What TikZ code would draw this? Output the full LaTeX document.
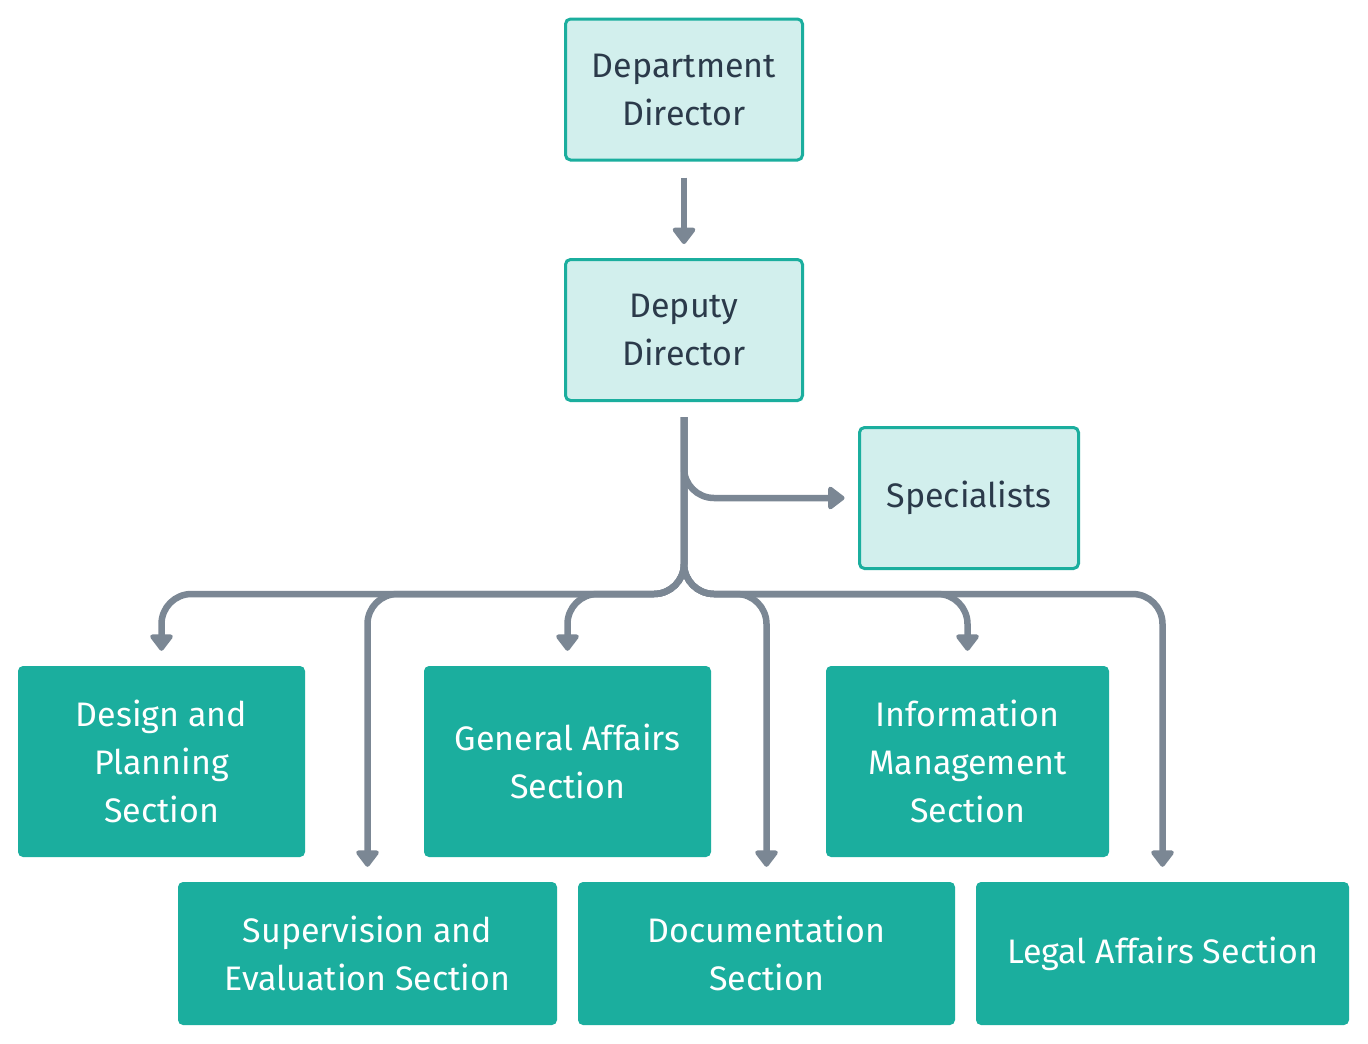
\documentclass[tikz,border=0pt]{standalone}
\usepackage{fontspec}
\setmainfont{Fira Sans}
\usetikzlibrary{arrows.meta}
\definecolor{tealc}{HTML}{1BAE9E}
\definecolor{lightc}{HTML}{D2EFED}
\definecolor{inkc}{HTML}{2B3A4A}
\definecolor{connc}{HTML}{7B8794}
\begin{document}
\begin{tikzpicture}[x=1pt,y=-1pt,
  lightbox/.style={draw=tealc, line width=3pt, fill=lightc, rounded corners=5pt, text=inkc, align=center, inner sep=0pt,
     font=\fontsize{34}{48}\selectfont},
  darkbox/.style={fill=tealc, rounded corners=5pt, text=white, align=center, inner sep=0pt,
     font=\fontsize{34}{48}\selectfont},
  conn/.style={draw=connc, line width=6.5pt, rounded corners=30pt, shorten <=15pt, shorten >=15pt,
     -{Triangle[length=18pt,width=26pt,round]}}
]
\useasboundingbox (0,0) rectangle (1368,1044);
\fill[white] (0,0) rectangle (1368,1044);

\node[lightbox, minimum width=237pt, minimum height=141pt] (dir) at (684,89.5) {Department\\Director};
\node[lightbox, minimum width=237pt, minimum height=141pt] (dep) at (684,330) {Deputy\\Director};
\node[lightbox, minimum width=219pt, minimum height=141pt] (spec) at (969,498) {Specialists};

\node[darkbox, minimum width=287pt, minimum height=191pt] (design) at (161.5,761.5) {Design and\\Planning\\Section};
\node[darkbox, minimum width=287pt, minimum height=191pt] (gen) at (567.5,761.5) {General Affairs\\Section};
\node[darkbox, minimum width=283pt, minimum height=191pt] (info) at (967.5,761.5) {Information\\Management\\Section};
\node[darkbox, minimum width=379pt, minimum height=143pt] (sup) at (367.5,953.5) {Supervision and\\Evaluation Section};
\node[darkbox, minimum width=377pt, minimum height=143pt] (doc) at (766.5,953.5) {Documentation\\Section};
\node[darkbox, minimum width=373pt, minimum height=143pt] (legal) at (1162.5,953.5) {Legal Affairs Section};

\coordinate (bus) at (684,594);

\draw[conn, shorten <=16pt, shorten >=14pt] (dir.south) -- (dep.north);
\draw[conn, shorten >=13.5pt] (dep.south) |- (spec.west);
\draw[conn] (dep.south) -- (bus) -| (design.north);
\draw[conn] (dep.south) -- (bus) -| (gen.north);
\draw[conn] (dep.south) -- (bus) -| (info.north);
\draw[conn] (dep.south) -- (bus) -| (sup.north);
\draw[conn] (dep.south) -- (bus) -| (doc.north);
\draw[conn] (dep.south) -- (bus) -| (legal.north);
\end{tikzpicture}
\end{document}
